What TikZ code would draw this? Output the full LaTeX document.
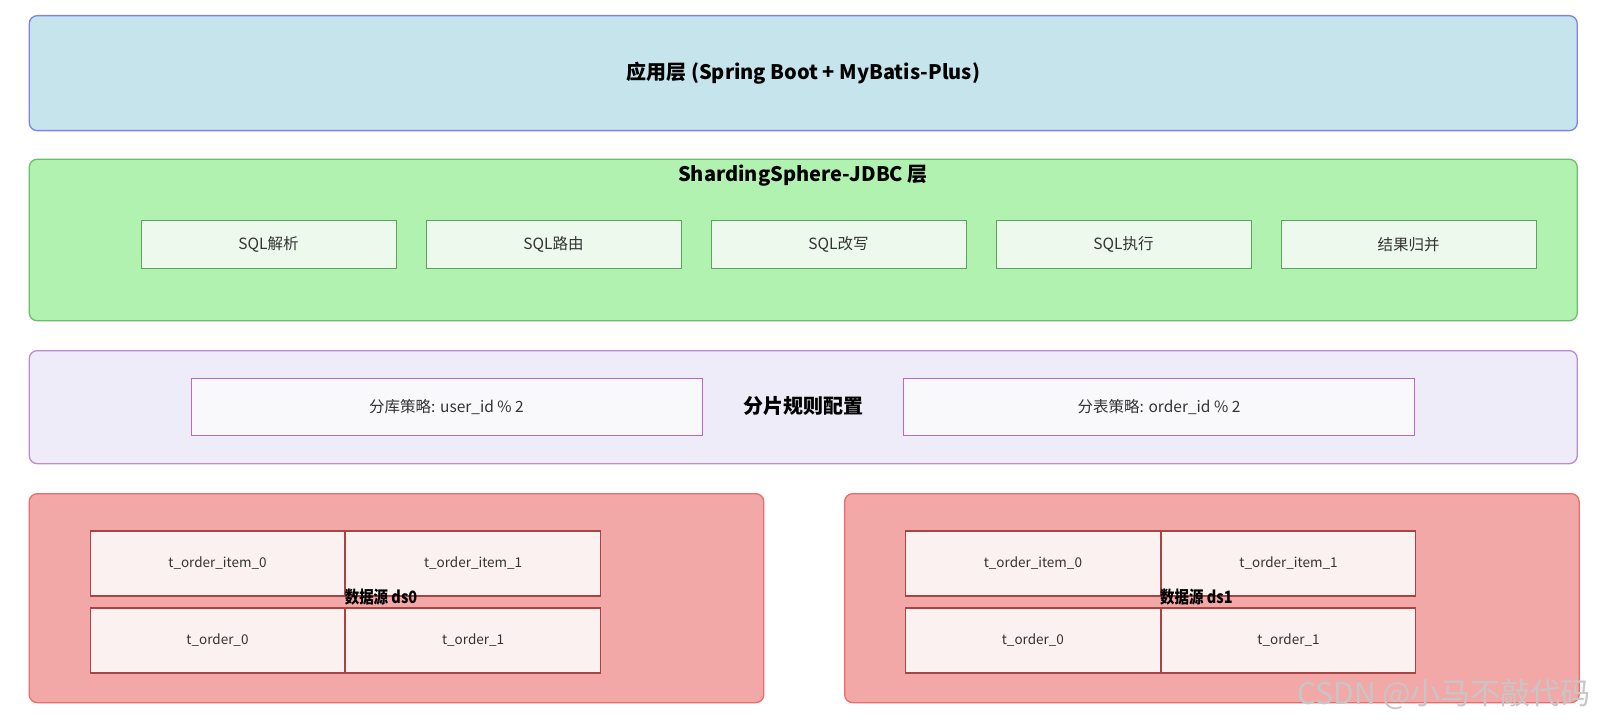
\documentclass[tikz,border=0pt]{standalone}
\usepackage{fontspec}
\setmainfont{Noto Sans CJK SC}
\usetikzlibrary{positioning}
\definecolor{appfill}{HTML}{C6E4EC}
\definecolor{appdraw}{HTML}{8080F0}
\definecolor{jdbcfill}{HTML}{B2F2B0}
\definecolor{jdbcdraw}{HTML}{6CBF6A}
\definecolor{modfill}{HTML}{EEF9EE}
\definecolor{moddraw}{HTML}{5AA558}
\definecolor{rulefill}{HTML}{EDECF8}
\definecolor{ruledraw}{HTML}{C08AD2}
\definecolor{stratfill}{HTML}{F9F9FC}
\definecolor{stratdraw}{HTML}{B868C8}
\definecolor{dsfill}{HTML}{F3A8A8}
\definecolor{dsdraw}{HTML}{F06A6A}
\definecolor{tblfill}{HTML}{FCF1F1}
\definecolor{tbldraw}{HTML}{A84444}
\definecolor{txt}{HTML}{333333}
\tikzset{
  layer/.style={%
    draw,
    rounded corners=8pt,
    line width=1.3pt,
    minimum width=1548pt,
    anchor=north west,
    inner sep=0pt,
  },
  title/.style={font=\bfseries\fontsize{20}{22}\selectfont, text=black},
  module/.style={%
    draw=moddraw,
    fill=modfill,
    line width=1pt,
    minimum width=255pt,
    minimum height=47pt,
    inner sep=0pt,
    text=txt,
    font=\fontsize{15.5}{17}\selectfont,
  },
  strategy/.style={%
    draw=stratdraw,
    fill=stratfill,
    line width=1pt,
    minimum width=511pt,
    minimum height=57pt,
    inner sep=0pt,
    text=txt,
    font=\fontsize{15.5}{17}\selectfont,
  },
  tablebox/.style={%
    draw=tbldraw,
    fill=tblfill,
    line width=1.1pt,
    minimum width=254.5pt,
    minimum height=65pt,
    inner sep=0pt,
    text=txt,
    font=\fontsize{13.5}{16}\selectfont,
  },
}
\newcommand\DataSource[2]{% #1 shift, #2 index of the source
  \begin{scope}[xshift=#1]
    \node (ds#2) [layer, draw=dsdraw, fill=dsfill, minimum width=734.5pt,
      minimum height=209pt] at (28.6,493) {};
    \node (ds#2a) [tablebox] at (217.5,563.5) {t\_order\_item\_0};
    \node (ds#2b) [tablebox, right=0pt of ds#2a] {t\_order\_item\_1};
    \node (ds#2c) [tablebox] at (217.5,640.5) {t\_order\_0};
    \node (ds#2d) [tablebox, right=0pt of ds#2c] {t\_order\_1};
    \node (ds#2t) [title, font=\bfseries\fontsize{17}{19}\selectfont] at (381,597)
      {\scalebox{0.85}[1]{数据源 ds#2}};
  \end{scope}
}

\begin{document}
\begin{tikzpicture}[x=1pt, y=-1pt]
    \useasboundingbox (0,0) rectangle (1604,722);
    % application layer
    \node (app) [layer, draw=appdraw, fill=appfill, minimum height=115pt] at (28.6,15) {};
    \node (apptitle) [title] at (app.center) {应用层 (Spring Boot + MyBatis-Plus)};
    % jdbc layer
    \node (jdbc) [layer, draw=jdbcdraw, fill=jdbcfill, minimum height=161.5pt] at (28.6,158.6) {};
    \node (jdbctitle) [title] at (803,176) {ShardingSphere-JDBC 层};
    \foreach \name [count=\i] in {SQL解析, SQL路由, SQL改写, SQL执行, 结果归并}
        \node (mod\i) [module] at ({268.5+285*(\i-1)},244.5) {\name};
    % sharding rules
    \node (rule) [layer, draw=ruledraw, fill=rulefill, minimum height=113pt] at (28.6,350) {};
    \node (ruletitle) [title] at (803,406) {分片规则配置};
    \node (dbrule) [strategy] at (446.5,407) {分库策略: user\_id \% 2};
    \node (tblrule) [strategy] at (1159,407) {分表策略: order\_id \% 2};
    % data sources
    \DataSource{0pt}{0}
    \DataSource{815.4pt}{1}
    \node (mark) [text=gray!45, font=\fontsize{30}{32}\selectfont] at (1444,694) {CSDN @小马不敲代码};
\end{tikzpicture}
\end{document}
